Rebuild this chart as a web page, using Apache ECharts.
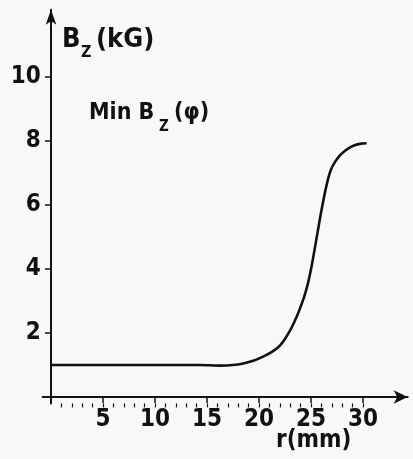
<!DOCTYPE html>
<html>
<head>
<meta charset="utf-8">
<script src="https://cdn.jsdelivr.net/npm/echarts@6/dist/echarts.min.js"></script>
<style>
html,body{margin:0;padding:0;background:#f8f8f6;}
#c{width:413px;height:459px;}
</style>
</head>
<body>
<div id="c"></div>
<script>
// ---- data ----
const rValues = [0, 5, 10, 12.5, 14.3, 16.25, 17.5, 18.5, 19.45, 20.4, 21.2, 21.9, 22.35, 22.8, 23.2, 23.6, 23.9, 24.26, 24.5, 24.75, 25.0, 25.2, 25.45, 25.7, 25.93, 26.2, 26.38, 26.67, 26.95, 27.3, 27.7, 28.1, 28.6, 29.07, 29.7, 30.35];
const bzValues = [1.0, 1.0, 1.0, 1.0, 1.0, 0.98, 1.0, 1.05, 1.13, 1.26, 1.40, 1.57, 1.74, 1.97, 2.21, 2.49, 2.73, 3.05, 3.30, 3.61, 3.99, 4.34, 4.80, 5.27, 5.70, 6.16, 6.45, 6.85, 7.13, 7.34, 7.52, 7.65, 7.77, 7.85, 7.91, 7.93];
const xMajorTicks = [5, 10, 15, 20, 25, 30];
const xMinorTicks = [1,2,3,4,5,6,7,8,9,10,11,12,13,14,15,16,17,18,19,20,21,22,23,24,25,26,27,28,29,30];
const yTicks = [2, 4, 6, 8, 10];
const yAxisTitle = ['B', 'Z', '(kG)'];
const curveLabel = ['Min B', 'Z', '(φ)'];
const xAxisTitle = 'r(mm)';

const NUMFONT = "'DejaVu Sans Condensed','DejaVu Sans',sans-serif";
const TXTFONT = "'DejaVu Sans Condensed','DejaVu Sans',sans-serif";
const INK = '#111';

const chart = echarts.init(document.getElementById('c'), null, {renderer: 'canvas'});
const lineStyleAxis = {color: INK, width: 2};
const seriesData = rValues.map((r, i) => [r, bzValues[i]]);

function txt(s, x, y, size) {
  return {type: 'text', x: x, y: y,
    style: {text: s, fontSize: size, fontWeight: 'bold', fontFamily: TXTFONT, fill: INK, align: 'left', verticalAlign: 'middle'}};
}

chart.setOption({
  backgroundColor: '#f8f8f6',
  animation: false,
  grid: {left: 42.7, right: 5.3, top: 9.8, bottom: 55.6, containLabel: false},
  xAxis: [{
    type: 'value', min: -0.8, max: 34.3,
    axisLine: {show: true, onZero: true, lineStyle: lineStyleAxis, symbol: ['none', 'arrow'], symbolSize: [10, 14]},
    axisTick: {show: true, inside: false, length: 6, lineStyle: {color: INK, width: 1.5}, customValues: xMajorTicks},
    axisLabel: {show: true, margin: 4, customValues: xMajorTicks, color: INK, fontSize: 24, fontWeight: 'bold', fontFamily: NUMFONT},
    splitLine: {show: false}
  }, {
    type: 'value', min: -0.8, max: 34.3, position: 'bottom',
    axisLine: {show: false},
    axisTick: {show: true, inside: false, length: 4, lineStyle: {color: INK, width: 1.2}, customValues: xMinorTicks},
    axisLabel: {show: false},
    splitLine: {show: false}
  }],
  yAxis: {
    type: 'value', min: -0.2, max: 12.1,
    axisLine: {show: true, onZero: true, lineStyle: lineStyleAxis, symbol: ['none', 'arrow'], symbolSize: [8, 15]},
    axisTick: {show: true, inside: false, length: 6, lineStyle: {color: INK, width: 1.5}, customValues: yTicks},
    axisLabel: {show: true, margin: 2, customValues: yTicks, color: INK, fontSize: 24, fontWeight: 'bold', fontFamily: NUMFONT},
    splitLine: {show: false}
  },
  series: [{
    type: 'line',
    xAxisIndex: 0,
    data: seriesData,
    smooth: 0.3,
    showSymbol: false,
    lineStyle: {color: INK, width: 2.6}
  }],
  graphic: [
    txt(yAxisTitle[0], 62, 40, 27),
    txt(yAxisTitle[1], 81, 53, 16),
    txt(yAxisTitle[2], 96, 40, 27),
    txt(curveLabel[0], 89, 113, 23),
    txt(curveLabel[1], 159, 127, 15),
    txt(curveLabel[2], 174, 113, 23),
    txt(xAxisTitle, 276, 441, 24)
  ]
});
</script>
</body>
</html>
